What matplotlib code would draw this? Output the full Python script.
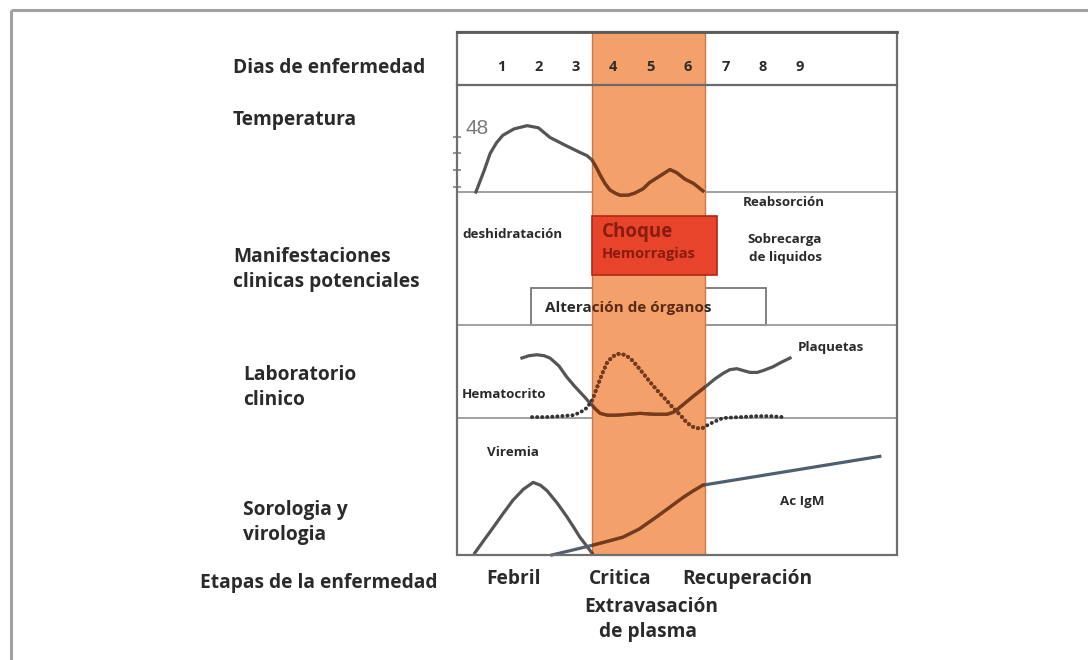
import matplotlib
matplotlib.use("Agg")
import matplotlib.pyplot as plt
from matplotlib.patches import Rectangle

# ---------------- data ----------------
days = [1, 2, 3, 4, 5, 6, 7, 8, 9]
critical_phase = (3.43, 6.45)          # days covered by the critical phase band

temp_day = [0.33, 0.55, 0.71, 0.88, 1.05, 1.35, 1.70, 2.00, 2.31, 2.70, 3.11, 3.30, 3.43,
            3.55, 3.65, 3.78, 3.91, 4.05, 4.18, 4.40, 4.58, 4.80, 4.98, 5.25, 5.52, 5.70,
            5.92, 6.15, 6.40]
temp_val = [0.00, 0.20, 0.36, 0.46, 0.53, 0.59, 0.62, 0.60, 0.51, 0.44, 0.37, 0.34, 0.30,
            0.23, 0.16, 0.08, 0.02, -0.01, -0.03, -0.03, -0.01, 0.03, 0.09, 0.15, 0.21, 0.18,
            0.12, 0.08, 0.01]
temp_ticks = [0.05, 0.21, 0.36, 0.51]

plq_day = [1.56, 1.75, 1.96, 2.15, 2.31, 2.55, 2.76, 2.95, 3.11, 3.25, 3.38, 3.52, 3.65,
           3.85, 4.10, 4.40, 4.72, 5.10, 5.44, 5.60, 5.71, 5.92, 6.13, 6.32, 6.51, 6.72,
           6.94, 7.12, 7.31, 7.48, 7.66, 7.85, 8.01, 8.27, 8.50, 8.73]
plq_val = [0.645, 0.67, 0.68, 0.67, 0.645, 0.56, 0.44, 0.35, 0.28, 0.22, 0.16, 0.10, 0.05,
           0.03, 0.03, 0.04, 0.05, 0.04, 0.04, 0.06, 0.09, 0.16, 0.23, 0.29, 0.35, 0.42,
           0.48, 0.52, 0.53, 0.51, 0.49, 0.49, 0.51, 0.55, 0.60, 0.645]

hct_day = [1.83, 2.20, 2.60, 2.93, 3.12, 3.30, 3.45, 3.57, 3.70, 3.83, 3.98, 4.13, 4.30,
           4.45, 4.62, 4.80, 4.98, 5.17, 5.40, 5.60, 5.80, 5.97, 6.10, 6.24, 6.38, 6.51,
           6.70, 6.94, 7.40, 7.84, 8.20, 8.54]
hct_val = [0.01, 0.01, 0.02, 0.03, 0.06, 0.11, 0.20, 0.33, 0.47, 0.59, 0.66, 0.69, 0.68,
           0.645, 0.57, 0.48, 0.39, 0.30, 0.20, 0.11, 0.03, -0.05, -0.09, -0.11, -0.11, -0.08,
           -0.04, 0.00, 0.01, 0.02, 0.02, 0.01]

vir_day = [0.30, 0.55, 0.79, 1.05, 1.32, 1.60, 1.86, 2.05, 2.23, 2.50, 2.76, 2.95, 3.11,
           3.28, 3.43]
vir_val = [0.015, 0.11, 0.20, 0.30, 0.40, 0.48, 0.53, 0.51, 0.47, 0.38, 0.28, 0.20, 0.13,
           0.07, 0.015]

igm_day = [2.36, 2.90, 3.43, 3.85, 4.26, 4.70, 5.17, 5.52, 5.87, 6.15, 6.40, 11.13]
igm_val = [0.00, 0.035, 0.07, 0.10, 0.13, 0.19, 0.28, 0.35, 0.42, 0.47, 0.51, 0.72]

row_labels = [("Dias de enfermedad", 233, 68), ("Temperatura", 233, 120),
              ("Manifestaciones", 233, 257), ("clinicas potenciales", 233, 282),
              ("Laboratorio", 243, 375), ("clinico", 243, 400),
              ("Sorologia y", 243, 510), ("virologia", 243, 535),
              ("Etapas de la enfermedad", 200, 583)]
stage_labels = [("Febril", 514, 579), ("Critica", 620, 579), ("Recuperación", 747, 579),
                ("Extravasación", 651, 607), ("de plasma", 648, 632)]

# ---------------- layout ----------------
W, H = 1088, 660
BOX_L, BOX_R, BOX_T, BOX_B = 457, 897, 32, 555
ROWS = [85, 192, 325, 418]
X0, X1 = -0.176, 11.59

FONT = ["Open Sans", "DejaVu Sans"]
TXT = "#2a2a2a"
LINE = "#555555"
BROWN = "#7a3a18"
ORANGE = "#F4A06A"

fig = plt.figure(figsize=(W / 100, H / 100), dpi=100)
fig.patch.set_facecolor("white")


def pix_axes(z):
    a = fig.add_axes([0, 0, 1, 1], zorder=z)
    a.set_xlim(0, W)
    a.set_ylim(H, 0)
    a.axis("off")
    a.patch.set_alpha(0)
    return a


def panel(top, bottom, z):
    a = fig.add_axes([BOX_L / W, (H - bottom) / H, (BOX_R - BOX_L) / W, (bottom - top) / H],
                     zorder=z)
    a.set_xlim(X0, X1)
    a.set_ylim(0, 1)
    a.patch.set_alpha(0)
    for s in a.spines.values():
        s.set_visible(False)
    a.set_xticks([])
    a.set_yticks([])
    return a


def d2px(d):
    return BOX_L + (d - X0) / (X1 - X0) * (BOX_R - BOX_L)


def band_clip(ax):
    return Rectangle((critical_phase[0], -5), critical_phase[1] - critical_phase[0], 10,
                     transform=ax.transData)


bg = pix_axes(0)
# outer frame
bg.plot([11, W], [10, 10], color="#a0a0a0", lw=2.2, solid_capstyle="butt")
bg.plot([11, 11], [10, H], color="#a0a0a0", lw=2.2, solid_capstyle="butt")
# row separators (under the band)
for y in ROWS[1:]:
    bg.plot([BOX_L, BOX_R], [y, y], color="#9a9a9a", lw=1.3)
# organ alteration box (under the band)
bg.add_patch(Rectangle((531, 288), 766 - 531, 325 - 288, facecolor="white",
                       edgecolor="#777777", lw=1.3))

# band
band_ax = panel(BOX_T, BOX_B, 1)
band_ax.axvspan(critical_phase[0], critical_phase[1], color=ORANGE, ec="#c9784a", lw=1.0)


def draw_curve(ax, xs, ys, color, **kw):
    ax.plot(xs, ys, color=color, clip_on=False, **kw)
    ln, = ax.plot(xs, ys, color=BROWN, **kw)
    ln.set_clip_path(band_clip(ax))


# temperature
ax_t = panel(ROWS[0], ROWS[1], 2)
draw_curve(ax_t, temp_day, temp_val, LINE, lw=2.3, solid_joinstyle="round")
ax_t.set_yticks(temp_ticks)
ax_t.tick_params(axis="y", direction="inout", length=6, width=1.3, color="#8a8a8a",
                 labelleft=False)

# laboratory
ax_l = panel(ROWS[2], ROWS[3], 2)
draw_curve(ax_l, plq_day, plq_val, LINE, lw=2.3, solid_joinstyle="round")
draw_curve(ax_l, hct_day, hct_val, "#333333", lw=2.8, linestyle=(0, (0.05, 1.25)),
           dash_capstyle="round")

# serology
ax_s = panel(ROWS[3], BOX_B, 2)
draw_curve(ax_s, vir_day, vir_val, LINE, lw=2.3, solid_joinstyle="round")
ax_s.plot(igm_day, igm_val, color="#4f5f6e", lw=2.3, clip_on=False)
ln, = ax_s.plot(igm_day, igm_val, color=BROWN, lw=2.3)
ln.set_clip_path(band_clip(ax_s))

# foreground
fg = pix_axes(4)
fg.add_patch(Rectangle((BOX_L, BOX_T), BOX_R - BOX_L, BOX_B - BOX_T, fill=False,
                       edgecolor="#6f6f6f", lw=1.6))
fg.plot([BOX_L, BOX_R], [BOX_T, BOX_T], color="#5a5a5a", lw=2.0)
fg.plot([BOX_L, BOX_R], [ROWS[0], ROWS[0]], color="#6a6a6a", lw=1.6)

for d in days:
    fg.text(d2px(d), 67, str(d), ha="center", va="center", fontsize=10.5, fontweight="bold",
            color=TXT, family=FONT)

for s, x, y in row_labels:
    fg.text(x, y, s, ha="left", va="center", fontsize=13.8, fontweight="bold", color=TXT,
            family=FONT)
for s, x, y in stage_labels:
    fg.text(x, y, s, ha="center", va="center", fontsize=13.8, fontweight="bold", color=TXT,
            family=FONT)

fg.text(466, 129, "48", ha="left", va="center", fontsize=15, color="#7a7a7a",
        family=["Liberation Sans", "DejaVu Sans"])

small = dict(fontsize=9.6, fontweight="bold", color=TXT, family=FONT, va="center")
fg.text(462, 235, "deshidratación", ha="left", **small)
fg.text(743, 203, "Reabsorción", ha="left", **small)
fg.text(747, 240, "Sobrecarga", ha="left", **small)
fg.text(749, 257, "de liquidos", ha="left", **small)
fg.text(462, 394, "Hematocrito", ha="left", **small)
fg.text(798, 348, "Plaquetas", ha="left", **small)
fg.text(487, 453, "Viremia", ha="left", **small)
fg.text(780, 502, "Ac IgM", ha="left", **small)

# shock / hemorrhage box (over the band)
fg.add_patch(Rectangle((592, 216), 717 - 592, 275 - 216, facecolor="#E8442C",
                       edgecolor="#b02818", lw=1.2))
fg.text(602, 232, "Choque", ha="left", va="center", fontsize=13.5, fontweight="bold",
        color="#8a1c0e", family=FONT)
fg.text(602, 254, "Hemorragias", ha="left", va="center", fontsize=10.5, fontweight="bold",
        color="#8a1c0e", family=FONT)

bx0, bx1 = d2px(critical_phase[0]), d2px(critical_phase[1])
org_parts = [((0, bx0), TXT), ((bx0, bx1), "#5a2a12"), ((bx1, W), TXT)]
for (c0, c1), col in org_parts:
    t = fg.text(545, 308, "Alteración de órganos", ha="left", va="center", fontsize=11,
                fontweight="bold", color=col, family=FONT)
    t.set_clip_path(Rectangle((c0, 0), c1 - c0, H, transform=fg.transData))
    t.set_clip_on(True)

fig.savefig("out.png", dpi=100, facecolor="white")
